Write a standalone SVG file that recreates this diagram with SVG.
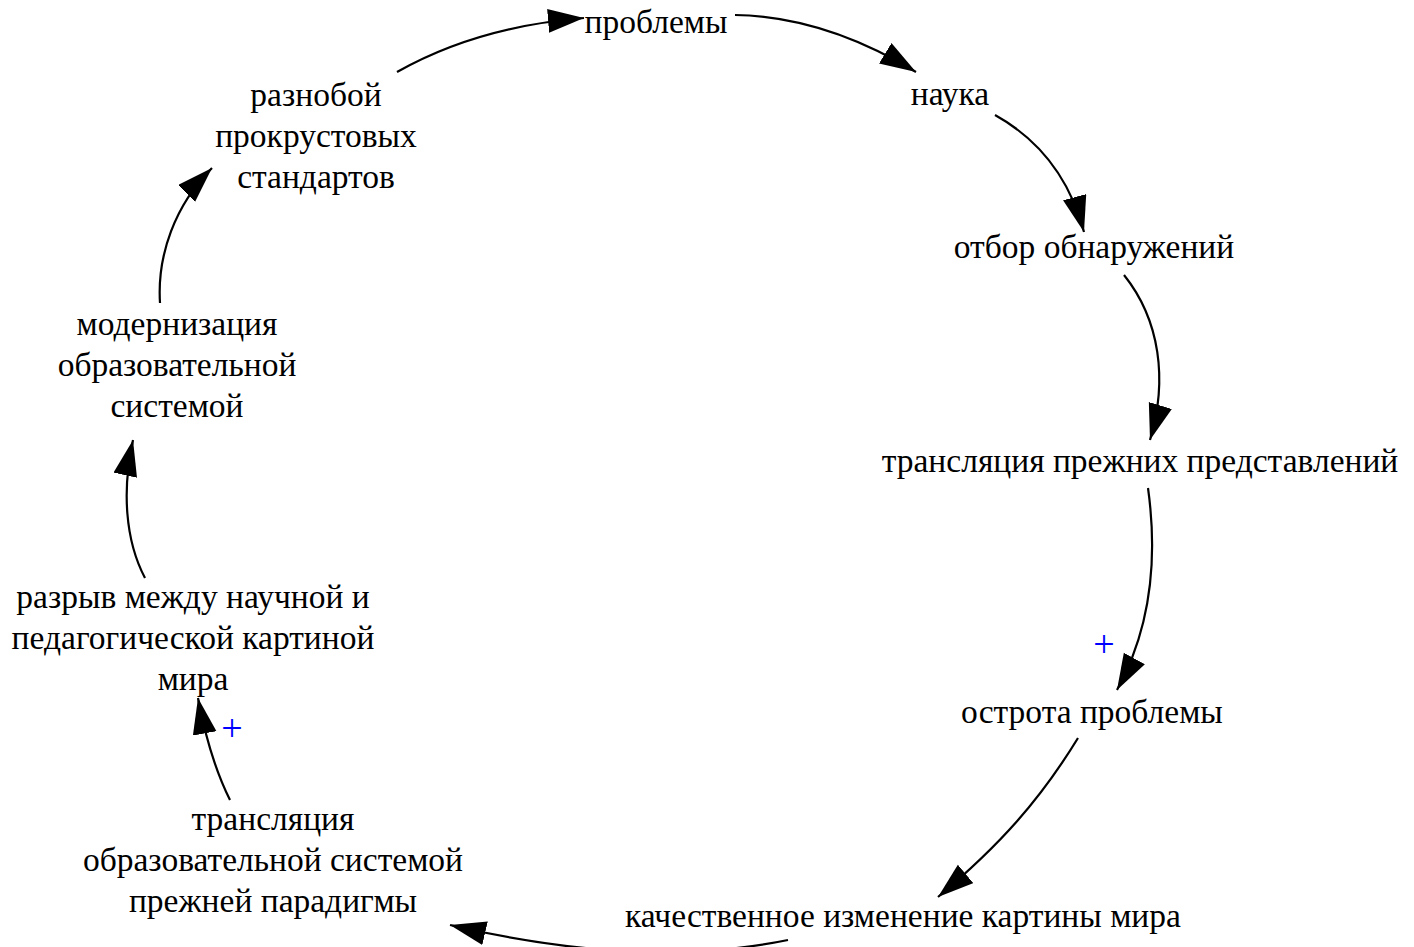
<svg xmlns="http://www.w3.org/2000/svg" width="1414" height="947" viewBox="0 0 1414 947">
<style>
text{font-family:"Liberation Serif","Times New Roman",serif;font-size:33.5px;fill:#000;text-anchor:middle}
.e{fill:none;stroke:#000;stroke-width:2.2}
.p{fill:#0000ff;font-size:38px}
</style>
<defs>
<marker id="ah" markerUnits="userSpaceOnUse" markerWidth="38" markerHeight="26" refX="36" refY="12" orient="auto">
<path d="M0,0 L36,12 L0,24 z" fill="#000"/>
</marker>
</defs>
<rect width="1414" height="947" fill="#fff"/>
<g id="connectors">
<path class="e" marker-end="url(#ah)" d="M397,72 C450,42 510,24 584,18"/>
<path class="e" marker-end="url(#ah)" d="M735,15 C800,16 860,38 916,72"/>
<path class="e" marker-end="url(#ah)" d="M995,115 C1040,140 1070,180 1084,232"/>
<path class="e" marker-end="url(#ah)" d="M1124,275 C1160,320 1168,380 1150,440"/>
<path class="e" marker-end="url(#ah)" d="M1148,488 C1158,560 1150,630 1117,690"/>
<path class="e" marker-end="url(#ah)" d="M1078,738 C1040,800 1000,845 938,897"/>
<path class="e" marker-end="url(#ah)" d="M788,940 C700,958 590,958 450,925"/>
<path class="e" marker-end="url(#ah)" d="M230,800 C215,770 205,735 198,698"/>
<path class="e" marker-end="url(#ah)" d="M145,578 C125,540 122,490 133,440"/>
<path class="e" marker-end="url(#ah)" d="M160,303 C157,255 175,205 212,168"/>
<text class="p" x="1104" y="657">+</text>
<text class="p" x="232" y="741">+</text>
</g>
<g id="n1"><text x="656" y="33">проблемы</text></g>
<g id="n2"><text x="950" y="105">наука</text></g>
<g id="n3"><text x="1094" y="258">отбор обнаружений</text></g>
<g id="n4"><text x="1140" y="472">трансляция прежних представлений</text></g>
<g id="n5"><text x="1092" y="723">острота проблемы</text></g>
<g id="n6"><text x="903" y="927">качественное изменение картины мира</text></g>
<g id="n7"><text x="273" y="830">трансляция</text><text x="273" y="871">образовательной системой</text><text x="273" y="912">прежней парадигмы</text></g>
<g id="n8"><text x="193" y="608">разрыв между научной и</text><text x="193" y="649">педагогической картиной</text><text x="193" y="690">мира</text></g>
<g id="n9"><text x="177" y="335">модернизация</text><text x="177" y="376">образовательной</text><text x="177" y="417">системой</text></g>
<g id="n10"><text x="316" y="106">разнобой</text><text x="316" y="147">прокрустовых</text><text x="316" y="188">стандартов</text></g>
</svg>
